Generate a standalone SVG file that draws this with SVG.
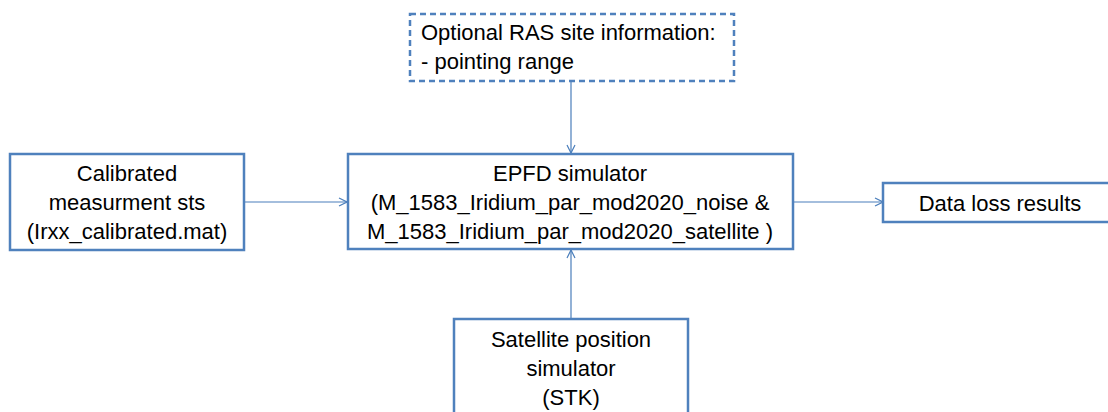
<svg xmlns="http://www.w3.org/2000/svg" width="1108" height="412" viewBox="0 0 1108 412">
<defs>
<marker id="arr" viewBox="0 0 10 10" refX="9" refY="5" markerWidth="10" markerHeight="10" markerUnits="userSpaceOnUse" orient="auto">
<path d="M1,1 L9,5 L1,9" fill="none" stroke="#4A7EBB" stroke-width="1.2"/>
</marker>
<style>
.box{fill:#fff;stroke:#4F81BD;stroke-width:2.5}
.dash{stroke-dasharray:6,4}
.t{font-family:"Liberation Sans",Arial,sans-serif;font-size:22px;fill:#000}
.c{text-anchor:middle}
.ln{stroke:#4A7EBB;stroke-width:1.2;fill:none;marker-end:url(#arr)}
</style>
</defs>
<rect width="1108" height="412" fill="#fff"/>
<g id="connectors">
<line class="ln" x1="571" y1="81" x2="571" y2="153"/>
<line class="ln" x1="244" y1="202" x2="347" y2="202"/>
<line class="ln" x1="793" y1="202" x2="883" y2="202"/>
<line class="ln" x1="571" y1="319" x2="571" y2="250"/>
</g>
<g id="ras">
<rect class="box dash" x="410" y="14" width="324" height="67"/>
<text class="t" x="421" y="40">Optional RAS site information:</text>
<text class="t" x="421" y="69">- pointing range</text>
</g>
<g id="calibrated">
<rect class="box" x="10" y="154" width="234" height="96"/>
<text class="t c" x="127" y="181">Calibrated</text>
<text class="t c" x="127" y="210">measurment sts</text>
<text class="t c" x="127" y="239">(Irxx_calibrated.mat)</text>
</g>
<g id="epfd">
<rect class="box" x="348" y="154" width="445" height="95"/>
<text class="t c" x="570" y="181">EPFD simulator</text>
<text class="t c" x="570" y="210">(M_1583_Iridium_par_mod2020_noise &amp;</text>
<text class="t c" x="570" y="239">M_1583_Iridium_par_mod2020_satellite )</text>
</g>
<g id="dataloss">
<rect class="box" x="883" y="183" width="240" height="39"/>
<text class="t c" x="1000" y="211">Data loss results</text>
</g>
<g id="satellite">
<rect class="box" x="454" y="319" width="234" height="110"/>
<text class="t c" x="571" y="347">Satellite position</text>
<text class="t c" x="571" y="376">simulator</text>
<text class="t c" x="571" y="405">(STK)</text>
</g>
</svg>
